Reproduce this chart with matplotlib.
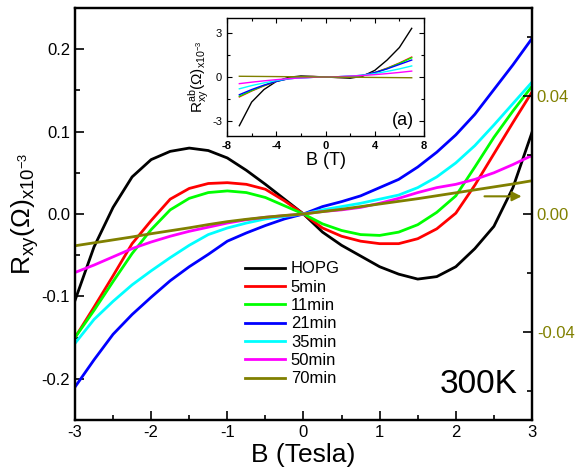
import numpy as np
import matplotlib
matplotlib.use("Agg")
import matplotlib.pyplot as plt
from matplotlib.ticker import MultipleLocator

plt.rcParams['font.family'] = ['Liberation Sans', 'DejaVu Sans']
plt.rcParams['axes.unicode_minus'] = False
plt.rcParams['mathtext.fontset'] = 'custom'
plt.rcParams['mathtext.rm'] = 'Liberation Sans'

# --- main panel data (B in Tesla, Rxy in Ohm x1e-3) ---
B = [-3.0, -2.75, -2.5, -2.25, -2.0, -1.75, -1.5, -1.25, -1.0, -0.75, -0.5, -0.25, 0.0,
     0.25, 0.5, 0.75, 1.0, 1.25, 1.5, 1.75, 2.0, 2.25, 2.5, 2.75, 3.0]

hopg = [-0.105, -0.040, 0.008, 0.045, 0.066, 0.076, 0.080, 0.077, 0.068, 0.053, 0.036, 0.018, 0.0,
        -0.022, -0.038, -0.051, -0.064, -0.073, -0.079, -0.076, -0.064, -0.042, -0.015, 0.032, 0.099]
min5 = [-0.150, -0.113, -0.075, -0.036, -0.008, 0.018, 0.031, 0.037, 0.038, 0.036, 0.030, 0.016, 0.0,
        -0.017, -0.027, -0.033, -0.036, -0.036, -0.030, -0.018, 0.001, 0.035, 0.073, 0.111, 0.148]
min11 = [-0.150, -0.117, -0.082, -0.048, -0.019, 0.005, 0.019, 0.026, 0.028, 0.026, 0.020, 0.010, 0.0,
         -0.012, -0.020, -0.025, -0.026, -0.022, -0.013, 0.002, 0.022, 0.057, 0.093, 0.125, 0.155]
min21 = [-0.210, -0.177, -0.146, -0.122, -0.101, -0.081, -0.064, -0.049, -0.033, -0.023, -0.014, -0.006, 0.0,
         0.009, 0.015, 0.022, 0.032, 0.042, 0.057, 0.075, 0.096, 0.121, 0.151, 0.181, 0.213]
min35 = [-0.157, -0.128, -0.106, -0.086, -0.069, -0.053, -0.038, -0.025, -0.017, -0.011, -0.006, -0.003, 0.0,
         0.005, 0.009, 0.013, 0.018, 0.023, 0.032, 0.045, 0.062, 0.083, 0.108, 0.134, 0.160]
min50 = [-0.071, -0.062, -0.052, -0.042, -0.034, -0.027, -0.021, -0.016, -0.011, -0.007, -0.004, -0.002, 0.0,
         0.003, 0.005, 0.008, 0.013, 0.019, 0.026, 0.032, 0.036, 0.042, 0.050, 0.060, 0.071]
# 70 min sample is read against the right-hand axis
min70 = [-0.0108, -0.0098, -0.0088, -0.0078, -0.0067, -0.0057, -0.0047, -0.0036, -0.0026, -0.0018, -0.0011,
         -0.0005, 0.0, 0.0008, 0.0016, 0.0025, 0.0034, 0.0043, 0.0052, 0.0062, 0.0072, 0.0082, 0.0092,
         0.0102, 0.0113]

labels = ['HOPG', '5min', '11min', '21min', '35min', '50min', '70min']
colors = ['black', '#FF0000', '#00FF00', '#0000FF', '#00FFFF', '#FF00FF', '#808000']

x_ticks = [-3, -2, -1, 0, 1, 2, 3]
y_ticks = [-0.2, -0.1, 0.0, 0.1, 0.2]
y_ticklabels = ['-0.2', '-0.1', '0.0', '0.1', '0.2']
y2_ticks = [-0.04, 0.0, 0.04]
y2_ticklabels = ['-0.04', '0.00', '0.04']

# --- inset data (B in T) ---
B_in = [-7, -6, -5, -4, -3, -2, -1, 0, 1, 2, 3, 4, 5, 6, 7]
in_hopg = [-3.3, -1.7, -0.85, -0.3, -0.02, 0.07, 0.04, 0.0, -0.04, -0.08, 0.05, 0.45, 1.15, 2.0, 3.3]
in_5 = [-1.35, -0.95, -0.6, -0.3, -0.1, 0.02, 0.03, 0.0, -0.03, -0.02, 0.1, 0.3, 0.6, 0.95, 1.35]
in_11 = [-1.3, -0.92, -0.58, -0.29, -0.1, 0.01, 0.02, 0.0, -0.02, -0.01, 0.1, 0.29, 0.58, 0.92, 1.3]
in_21 = [-1.2, -0.85, -0.55, -0.3, -0.12, -0.05, -0.02, 0.0, 0.02, 0.05, 0.12, 0.3, 0.55, 0.85, 1.15]
in_35 = [-0.8, -0.58, -0.4, -0.24, -0.12, -0.06, -0.02, 0.0, 0.02, 0.06, 0.12, 0.23, 0.38, 0.55, 0.75]
in_50 = [-0.45, -0.35, -0.26, -0.18, -0.11, -0.06, -0.02, 0.0, 0.02, 0.06, 0.1, 0.16, 0.23, 0.31, 0.4]
in_70 = [0.05, 0.043, 0.036, 0.029, 0.021, 0.014, 0.007, 0.0, -0.007, -0.014, -0.021, -0.029, -0.036, -0.043, -0.05]
in_xticks = [-8, -4, 0, 4, 8]
in_yticks = [-3, 0, 3]

olive = '#808000'

fig = plt.figure(figsize=(5.83, 4.70), dpi=100)
ax = fig.add_axes([0.1286, 0.1064, 0.7839, 0.8766])
ax2 = ax.twinx()

main_series = [hopg, min5, min11, min21, min35, min50]
for ys, lab, c in zip(main_series, labels[:6], colors[:6]):
    ax.plot(B, ys, color=c, lw=2.0, label=lab)
l70, = ax2.plot(B, min70, color=olive, lw=2.0, label=labels[6])

ax.set_xlim(-3, 3)
ax.set_ylim(-0.25, 0.25)
ax2.set_ylim(-0.07, 0.07)

ax.set_xticks(x_ticks)
ax.set_xticklabels([str(v) for v in x_ticks])
ax.xaxis.set_minor_locator(MultipleLocator(0.5))
ax.set_yticks(y_ticks)
ax.set_yticklabels(y_ticklabels)
ax.yaxis.set_minor_locator(MultipleLocator(0.05))
ax.tick_params(which='both', direction='in', top=False, right=False, labelsize=12)
ax.tick_params(which='major', length=6.5, width=1.2)
ax.tick_params(which='minor', length=3.5, width=1.2)

ax2.set_yticks(y2_ticks)
ax2.set_yticklabels(y2_ticklabels)
ax2.yaxis.set_minor_locator(MultipleLocator(0.02))
ax2.tick_params(which='both', direction='in', labelsize=12, labelcolor=olive)
ax2.tick_params(which='major', length=6.5, width=1.2)
ax2.tick_params(which='minor', length=3.5, width=1.2)

for a in (ax, ax2):
    for s in a.spines.values():
        s.set_linewidth(1.6)

ax.set_xlabel('B (Tesla)', fontsize=19, labelpad=2)
ax.set_ylabel(r'R$_{\mathregular{xy}}$($\Omega$)$_{\mathregular{x10^{-3}}}$', fontsize=19, labelpad=0)

handles, labs = ax.get_legend_handles_labels()
handles.append(l70)
labs.append(labels[6])
ax.legend(handles, labs, loc='upper left', bbox_to_anchor=(0.372, 0.385), frameon=False,
          fontsize=12, labelspacing=0.2, handlelength=2.4, handletextpad=0.35,
          borderpad=0, borderaxespad=0)

ax.text(0.969, 0.065, '300K', transform=ax.transAxes, ha='right', va='baseline', fontsize=24)

ax2.annotate('', xy=(2.9, 0.006), xytext=(2.34, 0.006),
             arrowprops=dict(arrowstyle='-|>', color=olive, lw=1.5, mutation_scale=14))

# --- inset ---
axi = fig.add_axes([0.3894, 0.7106, 0.3379, 0.2511])
inset_series = [in_hopg, in_5, in_11, in_21, in_35, in_50, in_70]
for ys, c in zip(inset_series, colors):
    axi.plot(B_in, ys, color=c, lw=1.0)
axi.set_xlim(-8, 8)
axi.set_ylim(-4, 4)
axi.set_xticks(in_xticks)
axi.set_xticklabels([str(v) for v in in_xticks], fontweight='bold', fontsize=8)
axi.xaxis.set_minor_locator(MultipleLocator(2))
axi.set_yticks(in_yticks)
axi.set_yticklabels([str(v) for v in in_yticks], fontsize=8)
axi.yaxis.set_minor_locator(MultipleLocator(1.5))
axi.tick_params(which='both', direction='in', top=True, right=True)
axi.tick_params(which='major', length=3.5, width=0.8)
axi.tick_params(which='minor', length=2, width=0.8)
for s in axi.spines.values():
    s.set_linewidth(1.0)
axi.set_xlabel('B (T)', fontsize=13, labelpad=1)
axi.set_ylabel(r'R$^{\mathregular{ab}}_{\mathregular{xy}}$($\Omega$)$_{\mathregular{x10^{-3}}}$',
               fontsize=11, labelpad=0)
axi.text(0.95, 0.06, '(a)', transform=axi.transAxes, ha='right', va='bottom', fontsize=13)

fig.savefig('out.png', dpi=100)
